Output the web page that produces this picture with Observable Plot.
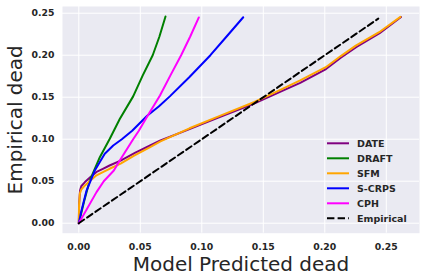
<!DOCTYPE html>
<html><head><meta charset="utf-8">
<script src="https://cdn.jsdelivr.net/npm/d3@7"></script>
<script src="https://cdn.jsdelivr.net/npm/@observablehq/plot@0.6"></script>
<style>body{margin:0;background:#fff;} svg{display:block}</style>
</head><body><div id="chart"></div>
<script>
const seriesNames = ["DATE","DRAFT","SFM","S-CRPS","CPH","Empirical"];
const seriesColors = ["#800080","#008000","#FFA500","#0000FF","#FF00FF","#000000"];

const dateX = [0,0.0003,0.001,0.002,0.005,0.0095,0.0144,0.02,0.025,0.034,0.046,0.058,0.0664,0.09,0.114,0.142,0.16,0.18,0.201,0.213,0.2255,0.2446,0.262];
const dateY = [0,0.024,0.039,0.044,0.049,0.055,0.061,0.065,0.0687,0.0746,0.084,0.0925,0.0985,0.112,0.126,0.142,0.154,0.167,0.1835,0.197,0.2095,0.2262,0.2455];
const draftX = [0,0.0045,0.0089,0.0171,0.0252,0.0333,0.0442,0.052,0.0601,0.0655,0.0705];
const draftY = [0,0.027,0.0508,0.0786,0.1005,0.124,0.151,0.176,0.2,0.222,0.246];
const sfmX = [0,0.0002,0.0008,0.002,0.005,0.0095,0.0144,0.02,0.025,0.034,0.045,0.058,0.0664,0.09,0.1152,0.1423,0.16,0.18,0.2008,0.213,0.2252,0.2442,0.2615];
const sfmY = [0,0.021,0.035,0.04,0.045,0.051,0.057,0.061,0.0648,0.071,0.0805,0.0905,0.0975,0.113,0.128,0.144,0.156,0.170,0.1857,0.199,0.2115,0.2274,0.2457];
const scrpsX = [0,0.002,0.0063,0.013,0.0211,0.028,0.035,0.0434,0.0556,0.065,0.074,0.09,0.107,0.12,0.1337];
const scrpsY = [0,0.014,0.0389,0.0627,0.0826,0.0925,0.1,0.11,0.128,0.139,0.151,0.174,0.2,0.222,0.2452];
const cphX = [0,0.0144,0.0203,0.0285,0.0333,0.0442,0.0488,0.0556,0.066,0.0745,0.0832,0.0905,0.0976];
const cphY = [0,0.037,0.05,0.0627,0.0746,0.1,0.110,0.127,0.152,0.176,0.2,0.222,0.245];
const empX = [0,0.2435];
const empY = [0,0.2435];

const xTicks = [0,0.05,0.10,0.15,0.20,0.25];
const yTicks = [0,0.05,0.10,0.15,0.20,0.25];
const xTitle = "Model Predicted dead";
const yTitle = "Empirical dead";

const allX = [dateX,draftX,sfmX,scrpsX,cphX,empX];
const allY = [dateY,draftY,sfmY,scrpsY,cphY,empY];
const rows = seriesNames.flatMap((name,i)=> allX[i].map((x,j)=>({series:name, x, y: allY[i][j]})));
const solid = rows.filter(d => d.series !== "Empirical");
const dashed = rows.filter(d => d.series === "Empirical");

const textColor = "#262626";
const font = "DejaVu Sans";

const legend = (index, scales, values, dims) => {
  const g = d3.create("svg:g")
    .attr("font-family", font).attr("font-size", 9.5).attr("font-weight", "bold")
    .attr("fill", textColor).attr("text-anchor", "start");
  const right = dims.width - dims.marginRight;
  const bottom = dims.height - dims.marginBottom;
  seriesNames.forEach((name, i) => {
    const y = bottom - 89.4 + i * 15;
    g.append("line")
      .attr("x1", right - 92).attr("x2", right - 70)
      .attr("y1", y).attr("y2", y)
      .attr("stroke", seriesColors[i]).attr("stroke-width", 2)
      .attr("stroke-dasharray", name === "Empirical" ? "7.4,3.2" : null);
    g.append("text")
      .attr("x", right - 62).attr("y", y).attr("dy", "0.36em")
      .text(name);
  });
  return g.node();
};

const chart = Plot.plot({
  width: 424,
  height: 280,
  marginLeft: 62,
  marginRight: 5,
  marginTop: 6,
  marginBottom: 47.3,
  style: {fontFamily: font, background: "#fff"},
  x: {domain: [-0.01325, 0.277], ticks: xTicks},
  y: {domain: [-0.0119, 0.258], ticks: yTicks},
  color: {domain: seriesNames, range: seriesColors},
  marks: [
    Plot.frame({fill: "#EAEAF2", stroke: null}),
    Plot.gridX(xTicks, {stroke: "#fff", strokeOpacity: 1, strokeWidth: 1}),
    Plot.gridY(yTicks, {stroke: "#fff", strokeOpacity: 1, strokeWidth: 1}),
    Plot.axisX(xTicks, {tickSize: 0, tickPadding: 9.7, tickFormat: d3.format(".2f"), fontWeight: "bold", fontSize: 9.3, fill: textColor, label: null}),
    Plot.axisY(yTicks, {tickSize: 0, tickPadding: 8, tickFormat: d3.format(".2f"), fontWeight: "bold", fontSize: 9.3, fill: textColor, label: null}),
    Plot.line(solid, {x: "x", y: "y", z: "series", stroke: "series", strokeWidth: 2, curve: "linear"}),
    Plot.line(dashed, {x: "x", y: "y", stroke: "series", strokeWidth: 2, strokeDasharray: "6.5,3.5"}),
    Plot.text([xTitle], {frameAnchor: "bottom", dy: 30.9, fontSize: 20, fill: textColor, textAnchor: "middle", lineAnchor: "middle", text: d => d}),
    Plot.text([yTitle], {frameAnchor: "left", dx: -46.7, rotate: -90, fontSize: 20, fill: textColor, textAnchor: "middle", lineAnchor: "middle", text: d => d}),
    legend
  ]
});
document.getElementById("chart").appendChild(chart);
</script>
</body></html>
